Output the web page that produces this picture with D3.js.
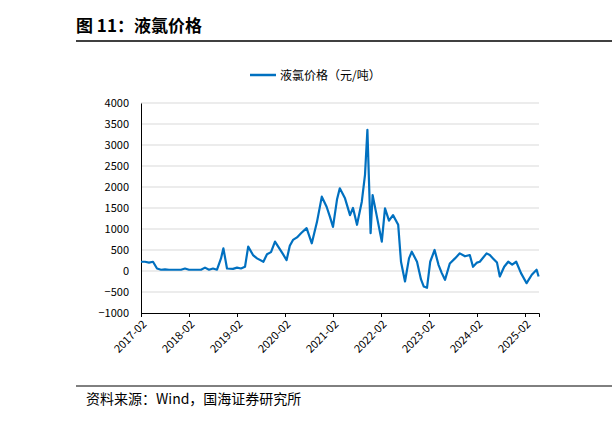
<!DOCTYPE html><html><head><meta charset="utf-8"><script src="https://cdn.jsdelivr.net/npm/d3@7"></script>
<style>body{margin:0;background:#fff}text{font-family:"Noto Sans CJK SC","Noto Sans",sans-serif}</style></head><body><svg id="c" width="612" height="421"></svg><script>
// months since 2017-02
const monthOffsets=[0,1,2,3,4,5,6,7,8,9,10,11,12,13,14,15,16,17,18,19,20,20.6,21.5,23,24,25,26,26.8,28,29,30.6,31.5,32.5,33.5,34.5,35.5,36.4,37.2,38,39,40,41.4,42.7,44,45.2,46.4,47.2,48,49,49.7,51,52.25,53,54,55.2,56,56.6,57,57.4,57.9,58.9,60.2,61,62,63,64.3,65,66,67,67.7,69,70,70.7,71.5,72.3,73.4,74.4,75.2,76,77.2,78.5,79.7,81,82.2,83,84,84.7,86.4,87.2,88,89,89.7,90.8,91.8,92.8,93.8,95,96.4,97.7,98.9,99.4];
const values=[220,220,200,220,60,30,40,30,30,30,30,60,30,30,30,30,80,30,60,30,300,540,60,50,80,60,100,580,380,300,220,400,450,700,550,400,260,600,740,800,900,1020,660,1170,1770,1530,1300,1050,1700,1970,1730,1330,1500,1100,1650,2290,3360,2130,900,1810,1330,700,1490,1200,1330,1100,220,-250,300,460,220,-200,-370,-400,220,500,140,-50,-210,180,300,420,350,380,100,200,220,420,380,300,200,-130,100,220,150,220,-50,-290,-90,30,-130];
const tickLabels=["2017-02","2018-02","2019-02","2020-02","2021-02","2022-02","2023-02","2024-02","2025-02"];
const yTicks=[-1000,-500,0,500,1000,1500,2000,2500,3000,3500,4000];
const data=values.map((v,i)=>({m:monthOffsets[i],v}));
const svg=d3.select("#c");
const x=d3.scaleLinear().domain([0,99.5]).range([141,539]);
const y=d3.scaleLinear().domain([-1000,4000]).range([313,103]);
svg.append("text").attr("x",76).attr("y",32).attr("font-size",17).attr("font-weight","bold").text("图 11：液氯价格");
svg.append("line").attr("x1",76).attr("x2",612).attr("y1",41).attr("y2",41).attr("stroke","#000").attr("stroke-width",1.5);
svg.append("line").attr("x1",76).attr("x2",612).attr("y1",386).attr("y2",386).attr("stroke","#000").attr("stroke-width",1);
svg.append("text").attr("x",86).attr("y",404).attr("font-size",14).text("资料来源：Wind，国海证券研究所");
const g=svg.append("g");
yTicks.forEach(v=>{ if(v>-1000) g.append("line").attr("x1",141).attr("x2",539).attr("y1",y(v)).attr("y2",y(v)).attr("stroke","#d9d9d9");});
const ya=svg.append("g").attr("transform","translate(141,0)").call(d3.axisLeft(y).tickValues(yTicks).tickSize(0).tickPadding(12).tickFormat(d3.format("d")));
ya.select(".domain").attr("stroke","#000");ya.selectAll("text").attr("font-size",11).attr("font-family","Liberation Sans,Arial");
const xa=svg.append("g").attr("transform","translate(0,313)").call(d3.axisBottom(x).tickValues(tickLabels.map((d,i)=>i*12)).tickSize(4).tickFormat((d,i)=>tickLabels[i]));
xa.select(".domain").attr("stroke","#000");
xa.selectAll("text").attr("font-size",11).attr("font-family","Liberation Sans,Arial").attr("text-anchor","end").attr("transform","rotate(-45)").attr("dx","-0.4em").attr("dy","0.5em");
svg.append("path").datum(data).attr("fill","none").attr("stroke","#0070c0").attr("stroke-width",2.2).attr("stroke-linejoin","round")
 .attr("d",d3.line().x(d=>x(d.m)).y(d=>y(d.v)));
svg.append("line").attr("x1",250).attr("x2",276).attr("y1",75).attr("y2",75).attr("stroke","#0070c0").attr("stroke-width",2.5);
svg.append("text").attr("x",280).attr("y",80).attr("font-size",12).text("液氯价格（元/吨）");
</script></body></html>
